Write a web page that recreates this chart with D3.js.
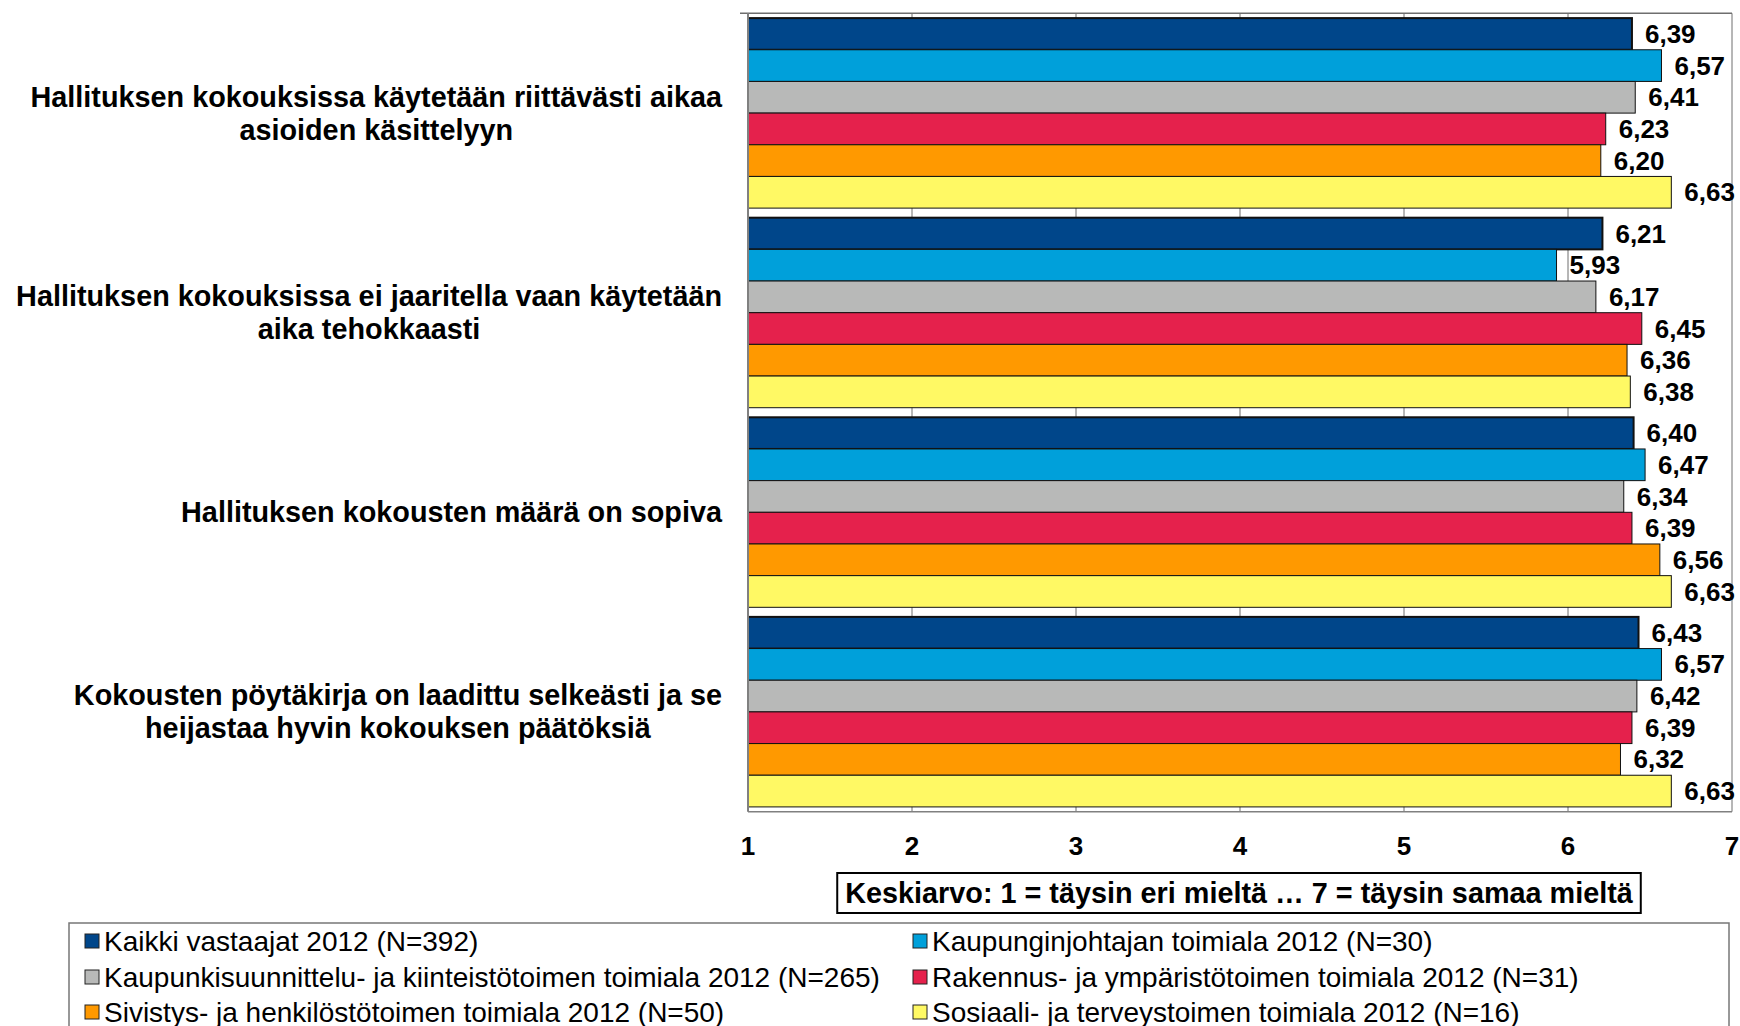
<!DOCTYPE html>
<html>
<head>
<meta charset="utf-8">
<script src="https://cdn.jsdelivr.net/npm/d3@7"></script>
<style>
  body { margin: 0; background: #fff; }
  svg { display: block; font-family: "Liberation Sans", Arial, sans-serif; }
</style>
</head>
<body>
<svg id="chart"></svg>
<script>
  // chart data
  const categories = [
    ['Hallituksen kokouksissa käytetään riittävästi aikaa', 'asioiden käsittelyyn'],
    ['Hallituksen kokouksissa ei jaaritella vaan käytetään', 'aika tehokkaasti'],
    ['Hallituksen kokousten määrä on sopiva'],
    ['Kokousten pöytäkirja on laadittu selkeästi ja se', 'heijastaa hyvin kokouksen päätöksiä']
  ];
  const seriesNames = [
    'Kaikki vastaajat 2012 (N=392)',
    'Kaupunginjohtajan toimiala 2012 (N=30)',
    'Kaupunkisuunnittelu- ja kiinteistötoimen toimiala 2012 (N=265)',
    'Rakennus- ja ympäristötoimen toimiala 2012 (N=31)',
    'Sivistys- ja henkilöstötoimen toimiala 2012 (N=50)',
    'Sosiaali- ja terveystoimen toimiala 2012 (N=16)'
  ];
  const seriesColors = ['#00468a', '#00a0da', '#b8b9b8', '#e5214c', '#ff9900', '#fff964'];
  // values[category][series]
  const values = [
    [6.39, 6.57, 6.41, 6.23, 6.20, 6.63],
    [6.21, 5.93, 6.17, 6.45, 6.36, 6.38],
    [6.40, 6.47, 6.34, 6.39, 6.56, 6.63],
    [6.43, 6.57, 6.42, 6.39, 6.32, 6.63]
  ];
  const xTicks = [1, 2, 3, 4, 5, 6, 7];
  const axisTitle = 'Keskiarvo: 1 = täysin eri mieltä … 7 = täysin samaa mieltä';

  const width = 1740, height = 1026;
  const plot = { left: 748, right: 1732, top: 13.3, bottom: 811.7 };

  const svg = d3.select('#chart').attr('width', width).attr('height', height);

  const x = d3.scaleLinear().domain([1, 7]).range([plot.left, plot.right]);
  const y = d3.scaleBand()
    .domain(d3.range(categories.length))
    .range([plot.top, plot.bottom])
    .paddingInner(0.048)
    .paddingOuter(0.024);
  const ySub = d3.scaleBand().domain(d3.range(seriesNames.length)).range([0, y.bandwidth()]);

  const fmt = v => d3.format('.2f')(v).replace('.', ',');

  // gridlines
  svg.append('g').selectAll('line').data(xTicks.slice(1))
    .enter().append('line')
      .attr('x1', d => x(d)).attr('x2', d => x(d))
      .attr('y1', plot.top).attr('y2', plot.bottom)
      .attr('stroke', '#6e6e6e').attr('stroke-width', 1);

  // top border line
  svg.append('line')
    .attr('x1', plot.left - 8).attr('x2', plot.right)
    .attr('y1', plot.top).attr('y2', plot.top)
    .attr('stroke', '#6e6e6e').attr('stroke-width', 1.5);

  // bars
  const groups = svg.append('g').selectAll('g').data(values)
    .enter().append('g')
      .attr('transform', (d, i) => `translate(0,${y(i)})`);

  groups.selectAll('rect').data(d => d)
    .enter().append('rect')
      .attr('x', x(1))
      .attr('y', (d, i) => ySub(i))
      .attr('width', d => x(d) - x(1))
      .attr('height', ySub.bandwidth())
      .attr('fill', (d, i) => seriesColors[i])
      .attr('stroke', '#111')
      .attr('stroke-width', (d, i) => i === 0 ? 2 : 1);

  groups.selectAll('text').data(d => d)
    .enter().append('text')
      .attr('x', d => x(d) + 13)
      .attr('y', (d, i) => ySub(i) + ySub.bandwidth() / 2)
      .attr('dy', '0.35em')
      .attr('font-size', '26px')
      .attr('font-weight', 'bold')
      .attr('fill', '#000')
      .text(fmt);

  // axes lines
  svg.append('line')
    .attr('x1', plot.left).attr('x2', plot.left)
    .attr('y1', plot.top).attr('y2', plot.bottom)
    .attr('stroke', '#808080').attr('stroke-width', 2);
  svg.append('line')
    .attr('x1', plot.left).attr('x2', plot.right)
    .attr('y1', plot.bottom).attr('y2', plot.bottom)
    .attr('stroke', '#808080').attr('stroke-width', 1.5);

  // x tick labels
  svg.append('g').selectAll('text').data(xTicks)
    .enter().append('text')
      .attr('x', d => x(d))
      .attr('y', 846)
      .attr('dy', '0.35em')
      .attr('text-anchor', 'middle')
      .attr('font-size', '26px')
      .attr('font-weight', 'bold')
      .text(d => d);

  // category labels: block right aligned, lines centred in block
  const labelRight = 722;
  const catG = svg.append('g').selectAll('g').data(categories)
    .enter().append('g');
  catG.each(function (lines, i) {
    const g = d3.select(this);
    const cy = y(i) + y.bandwidth() / 2;
    const lh = 33;
    const texts = g.selectAll('text').data(lines)
      .enter().append('text')
        .attr('y', (d, j) => cy + (j - (lines.length - 1) / 2) * lh)
        .attr('dy', '0.35em')
        .attr('font-size', '28.8px')
        .attr('font-weight', 'bold')
        .attr('text-anchor', 'middle')
        .text(d => d);
    let maxW = 0;
    texts.each(function () { maxW = Math.max(maxW, this.getComputedTextLength()); });
    texts.attr('x', labelRight - maxW / 2);
  });

  // axis title box
  const titleG = svg.append('g');
  const title = titleG.append('text')
    .attr('x', 1239).attr('y', 893)
    .attr('dy', '0.35em')
    .attr('text-anchor', 'middle')
    .attr('font-size', '28.8px')
    .attr('font-weight', 'bold')
    .text(axisTitle);
  const tw = title.node().getComputedTextLength();
  titleG.insert('rect', 'text')
    .attr('x', 1239 - tw / 2 - 8).attr('y', 873)
    .attr('width', tw + 16).attr('height', 40)
    .attr('fill', '#fff').attr('stroke', '#000').attr('stroke-width', 2);

  // legend
  const legend = svg.append('g');
  legend.append('rect')
    .attr('x', 69).attr('y', 923)
    .attr('width', 1660).attr('height', 130)
    .attr('fill', '#fff').attr('stroke', '#777').attr('stroke-width', 1.5);

  const legCols = [85, 913];
  const legRows = [941, 977, 1012];
  const items = legend.selectAll('g.item').data(seriesNames)
    .enter().append('g')
      .attr('class', 'item')
      .attr('transform', (d, i) => `translate(${legCols[i % 2]},${legRows[Math.floor(i / 2)]})`);
  items.append('rect')
    .attr('x', 0).attr('y', -7)
    .attr('width', 14).attr('height', 14)
    .attr('fill', (d, i) => seriesColors[i])
    .attr('stroke', '#222').attr('stroke-width', 1);
  items.append('text')
    .attr('x', 19).attr('dy', '0.35em')
    .attr('font-size', '28px')
    .text(d => d);
</script>
</body>
</html>
